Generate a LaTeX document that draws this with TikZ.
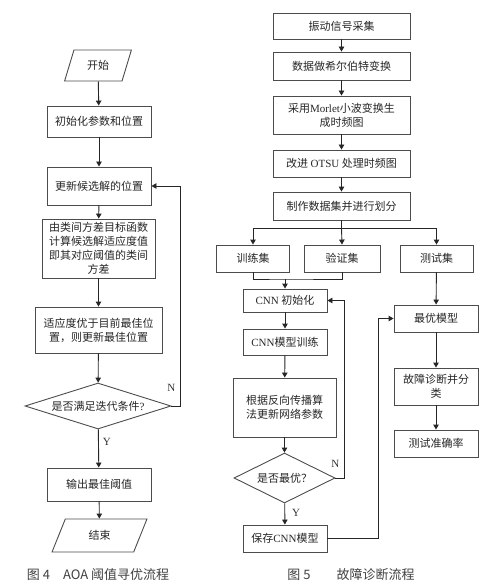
\documentclass[tikz,border=0pt]{standalone}
\usepackage{fontspec}
\setmainfont{Liberation Serif}
\newfontfamily\cjk{Noto Sans CJK SC}
\usepackage{tikz}
\usetikzlibrary{positioning,arrows.meta,shapes.geometric,calc}
\newcommand{\en}[1]{{\rmfamily #1}}

\tikzset{
  box/.style={draw=black!70,line width=0.9pt,align=center,inner sep=1pt,
    font=\cjk\fontsize{11}{14}\selectfont,text=black!85},
  para/.style={box,trapezium,trapezium left angle=69,trapezium right angle=111,
    trapezium stretches=true},
  cond/.style={box,diamond,inner sep=0pt},
  flow/.style={->,line width=0.9pt,draw=black!85},
  lab/.style={font=\fontsize{11}{13}\selectfont,text=black!80,inner sep=1pt},
  caption/.style={font=\cjk\fontsize{13}{15}\selectfont,text=black!75}
}

\begin{document}
\begin{tikzpicture}[x=1pt,y=-1pt,>={Triangle[length=5pt,width=5.5pt]}]
\useasboundingbox (0,0) rectangle (498,588);
% AOA threshold search
\node[para,minimum width=67,minimum height=31] (start) at (98,65.5) {开始};
\node[box,minimum width=104,minimum height=31] (init) at (99,121.5) {初始化参数和位置};
\node[box,minimum width=104,minimum height=38] (upd) at (99,186) {更新候选解的位置};
\node[box,minimum width=113,minimum height=59] (fit) at (98.5,248.5) {由类间方差目标函数\\计算候选解适应度值\\即其对应阈值的类间\\方差};
\node[box,minimum width=127,minimum height=46] (better) at (98.5,330) {适应度优于目前最佳位\\置，则更新最佳位置};
\node[cond,aspect=3.2,minimum width=146,minimum height=46] (iter) at (98,406) {是否满足迭代条件\en{?}};
\node[box,minimum width=104,minimum height=33] (outp) at (99,484.5) {输出最佳阈值};
\node[para,minimum width=95,minimum height=33] (stop) at (99.5,535.5) {结束};
\draw[flow] (start) -- (init);
\draw[flow] (init) -- (upd);
\draw[flow] (upd) -- (fit);
\draw[flow] (fit) -- (better);
\draw[flow] (better) -- (iter);
\draw[flow] (iter) -- node[lab,right=3pt,pos=0.32] (yes1) {Y} (outp);
\draw[flow] (outp) -- (stop);
\draw[flow] (iter.east) -- ++(9,0) |- (upd.east);
\node[lab,above=13pt] (no1) at (iter.east) {N};
\node[caption] (cap4) at (98,575) {图 4\quad AOA\ 阈值寻优流程};

% fault diagnosis
\node[box,minimum width=137,minimum height=26] (sig) at (341.5,26) {振动信号采集};
\node[box,minimum width=137,minimum height=28] (hil) at (341.5,66) {数据做希尔伯特变换};
\node[box,minimum width=137,minimum height=38] (mor) at (341.5,115) {采用\en{Morlet}小波变换生\\成时频图};
\node[box,minimum width=137,minimum height=27] (otsu) at (341.5,163.5) {改进 \en{OTSU} 处理时频图};
\node[box,minimum width=137,minimum height=28] (split) at (341.5,206) {制作数据集并进行划分};
\node[box,minimum width=73,minimum height=27] (train) at (253,258.5) {训练集};
\node[box,minimum width=76,minimum height=27] (valid) at (342,258.5) {验证集};
\node[box,minimum width=73,minimum height=27] (test) at (436.5,258.5) {测试集};
\node[box,minimum width=84,minimum height=23] (cinit) at (285,300.5) {\en{CNN} 初始化};
\node[box,minimum width=84,minimum height=26] (ctrain) at (285,342) {\en{CNN}模型训练};
\node[box,minimum width=103,minimum height=59] (bp) at (284.5,407.5) {根据反向传播算\\法更新网络参数};
\node[cond,aspect=2,minimum width=101,minimum height=50] (optq) at (284.5,478) {是否最优？};
\node[box,minimum width=84,minimum height=27] (save) at (285,538.5) {保存\en{CNN}模型};
\node[box,minimum width=84,minimum height=27] (bestm) at (436,318.5) {最优模型};
\node[box,minimum width=84,minimum height=37] (diag) at (436,386.5) {故障诊断并分\\类};
\node[box,minimum width=84,minimum height=27] (acc) at (436,443.5) {测试准确率};
\coordinate (fork) at (341.5,228);
\coordinate (join) at (285,279);
\draw[flow] (sig) -- (hil);
\draw[flow] (hil) -- (mor);
\draw[flow] (mor) -- (otsu);
\draw[flow] (otsu) -- (split);
\draw[line width=0.9pt,draw=black!85] (split) -- (fork);
\draw[flow] (fork) -| (train.north);
\draw[flow] (fork) -- (valid.north);
\draw[flow] (fork) -| (test.north);
\draw[line width=0.9pt,draw=black!85] (train.south) |- (join) -| (valid.south);
\draw[flow] (join) -- (cinit);
\draw[flow] (cinit) -- (ctrain);
\draw[flow] (ctrain) -- (bp);
\draw[flow] (bp) -- (optq);
\draw[flow] (optq) -- node[lab,right=6pt,pos=0.45] (yes2) {Y} (save);
\draw[flow] (optq.east) -- ++(9,0) |- (cinit.east);
\node[lab,above=9pt] (no2) at (optq.east) {N};
\draw[flow] (save.east) -- ++(51,0) |- (bestm.west);
\draw[flow] (test) -- (bestm);
\draw[flow] (bestm) -- (diag);
\draw[flow] (diag) -- (acc);
\node[caption] (cap5) at (351,575) {图 5\quad\quad 故障诊断流程};
\end{tikzpicture}
\end{document}
